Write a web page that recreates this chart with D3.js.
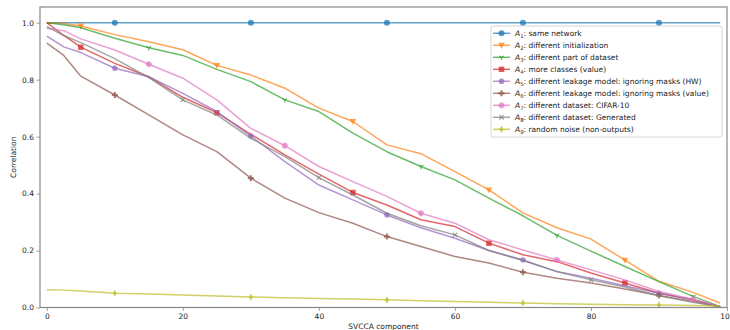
<!DOCTYPE html>
<html>
<head>
<meta charset="utf-8">
<script src="https://cdn.jsdelivr.net/npm/d3@7"></script>
<style>
  body { margin: 0; background: #fff; }
  svg { display: block; font-family: 'DejaVu Sans', sans-serif; }
</style>
</head>
<body>
<div id="chart"></div>
<script>
// SVCCA component positions where values were read
const components = [0, 2.5, 5, 10, 15, 20, 25, 30, 35, 40, 45, 50, 55, 60, 65, 70, 75, 80, 85, 90, 95, 99];

const a1 = [1, 1, 1, 1, 1, 1, 1, 1, 1, 1, 1, 1, 1, 1, 1, 1, 1, 1, 1, 1, 1, 1];
const a2 = [1.0, 0.997, 0.988, 0.958, 0.933, 0.905, 0.85, 0.816, 0.77, 0.70, 0.653, 0.571, 0.54, 0.477, 0.413, 0.332, 0.28, 0.24, 0.166, 0.092, 0.053, 0.016];
const a3 = [1.0, 0.993, 0.982, 0.945, 0.912, 0.885, 0.836, 0.793, 0.729, 0.688, 0.612, 0.547, 0.495, 0.448, 0.384, 0.322, 0.253, 0.198, 0.144, 0.091, 0.039, 0.003];
const a4 = [1.0, 0.955, 0.914, 0.857, 0.81, 0.738, 0.684, 0.608, 0.536, 0.468, 0.404, 0.36, 0.308, 0.284, 0.226, 0.185, 0.161, 0.121, 0.086, 0.05, 0.027, 0.003];
const a5 = [0.953, 0.915, 0.895, 0.84, 0.81, 0.752, 0.688, 0.602, 0.512, 0.43, 0.378, 0.325, 0.28, 0.243, 0.2, 0.167, 0.126, 0.103, 0.076, 0.05, 0.027, 0.003];
const a6 = [0.928, 0.885, 0.812, 0.746, 0.676, 0.606, 0.547, 0.454, 0.384, 0.333, 0.296, 0.249, 0.214, 0.179, 0.156, 0.124, 0.103, 0.086, 0.065, 0.042, 0.021, 0.003];
const a7 = [0.98, 0.972, 0.943, 0.904, 0.854, 0.805, 0.729, 0.629, 0.568, 0.495, 0.442, 0.39, 0.331, 0.296, 0.238, 0.202, 0.167, 0.132, 0.097, 0.056, 0.029, 0.003];
const a8 = [0.986, 0.955, 0.93, 0.874, 0.807, 0.729, 0.676, 0.594, 0.53, 0.456, 0.395, 0.331, 0.287, 0.255, 0.2, 0.165, 0.126, 0.097, 0.072, 0.041, 0.018, 0.003];
const a9 = [0.062, 0.061, 0.058, 0.05, 0.047, 0.044, 0.04, 0.037, 0.034, 0.032, 0.03, 0.027, 0.024, 0.021, 0.018, 0.016, 0.013, 0.011, 0.01, 0.009, 0.007, 0.005];

const labels = [
  "same network",
  "different initialization",
  "different part of dataset",
  "more classes (value)",
  "different leakage model: ignoring masks (HW)",
  "different leakage model: ignoring masks (value)",
  "different dataset: CIFAR-10",
  "different dataset: Generated",
  "random noise (non-outputs)"
];
const markerStart = [10, 5, 15, 5, 10, 10, 15, 20, 10];
const xTicks = [0, 20, 40, 60, 80, 100];
const yTicks = [0.0, 0.2, 0.4, 0.6, 0.8, 1.0];

const seriesValues = [a1, a2, a3, a4, a5, a6, a7, a8, a9];
const colors = ["#1f77b4", "#ff7f0e", "#2ca02c", "#d62728", "#9467bd", "#8c564b", "#e377c2", "#7f7f7f", "#bcbd22"];
const shapes = ["circle", "triDown", "tri", "square", "pentagon", "plus", "hexagon", "x", "diamond"];

const width = 730, height = 330;
const margin = { left: 40, right: 3, top: 7, bottom: 22.5 };

const x = d3.scaleLinear().domain([-1, 100]).range([margin.left, width - margin.right]);
const y = d3.scaleLinear().domain([0, 1.055]).range([height - margin.bottom, margin.top]);

const svg = d3.select("#chart").append("svg")
  .attr("width", width)
  .attr("height", height);

svg.append("defs").append("clipPath").attr("id", "plot-clip")
  .append("rect")
  .attr("x", margin.left).attr("y", margin.top)
  .attr("width", width - margin.left - margin.right)
  .attr("height", height - margin.top - margin.bottom);

// marker path generator, centred on 0,0
function markerPath(shape, s) {
  const p = d3.path();
  if (shape === "circle") {
    p.arc(0, 0, s * 0.55, 0, 2 * Math.PI);
  } else if (shape === "triDown") {
    p.moveTo(-s * 0.6, -s * 0.45); p.lineTo(s * 0.6, -s * 0.45); p.lineTo(0, s * 0.6); p.closePath();
  } else if (shape === "square") {
    p.rect(-s * 0.5, -s * 0.5, s, s);
  } else if (shape === "pentagon" || shape === "hexagon") {
    const n = shape === "pentagon" ? 5 : 6;
    for (let i = 0; i < n; i++) {
      const a = -Math.PI / 2 + i * 2 * Math.PI / n;
      const px = Math.cos(a) * s * 0.58, py = Math.sin(a) * s * 0.58;
      if (i === 0) p.moveTo(px, py); else p.lineTo(px, py);
    }
    p.closePath();
  } else if (shape === "plus") {
    const a = s * 0.55, b = s * 0.2;
    p.moveTo(-b, -a); p.lineTo(b, -a); p.lineTo(b, -b); p.lineTo(a, -b); p.lineTo(a, b); p.lineTo(b, b);
    p.lineTo(b, a); p.lineTo(-b, a); p.lineTo(-b, b); p.lineTo(-a, b); p.lineTo(-a, -b); p.lineTo(-b, -b); p.closePath();
  } else if (shape === "diamond") {
    p.moveTo(0, -s * 0.65); p.lineTo(s * 0.38, 0); p.lineTo(0, s * 0.65); p.lineTo(-s * 0.38, 0); p.closePath();
  } else if (shape === "x") {
    const a = s * 0.4;
    p.moveTo(-a, -a); p.lineTo(a, a); p.moveTo(-a, a); p.lineTo(a, -a);
  } else if (shape === "tri") {
    const a = s * 0.5;
    p.moveTo(0, 0); p.lineTo(0, a);
    p.moveTo(0, 0); p.lineTo(-a * 0.87, -a * 0.5);
    p.moveTo(0, 0); p.lineTo(a * 0.87, -a * 0.5);
  }
  return p.toString();
}
const strokeOnly = s => s === "x" || s === "tri";

function drawMarker(g, shape, color, cx, cy, size) {
  g.append("path")
    .attr("d", markerPath(shape, size))
    .attr("transform", `translate(${cx},${cy})`)
    .attr("fill", strokeOnly(shape) ? "none" : color)
    .attr("fill-opacity", 0.75)
    .attr("stroke", color)
    .attr("stroke-opacity", strokeOnly(shape) ? 0.75 : 0)
    .attr("stroke-width", 1.2);
}

const line = d3.line()
  .x(d => x(d[0]))
  .y(d => y(d[1]));

const plot = svg.append("g").attr("clip-path", "url(#plot-clip)");

seriesValues.forEach((vals, i) => {
  const pts = components.map((c, j) => [c, vals[j]]);
  const g = plot.append("g");
  g.append("path")
    .datum(pts)
    .attr("d", line)
    .attr("fill", "none")
    .attr("stroke", colors[i])
    .attr("stroke-opacity", 0.7)
    .attr("stroke-width", 1.5)
    .attr("stroke-linejoin", "round");
  pts.filter(p => p[0] >= markerStart[i] && (p[0] - markerStart[i]) % 20 === 0)
    .forEach(p => drawMarker(g, shapes[i], colors[i], x(p[0]), y(p[1]), 5.5));
});

// axes
const axisColor = "#888";
const xAxis = svg.append("g")
  .attr("transform", `translate(0,${height - margin.bottom})`)
  .call(d3.axisBottom(x).tickValues(xTicks).tickFormat(d3.format("d")).tickSize(3.5).tickPadding(2.5));
const yAxis = svg.append("g")
  .attr("transform", `translate(${margin.left},0)`)
  .call(d3.axisLeft(y).tickValues(yTicks).tickFormat(d3.format(".1f")).tickSize(3.5).tickPadding(2.5));
[xAxis, yAxis].forEach(a => {
  a.select(".domain").remove();
  a.selectAll(".tick line").attr("stroke", axisColor).attr("stroke-width", 0.8);
  a.selectAll(".tick text").attr("fill", "#222").style("font-size", "7.5px").style("font-family", "'DejaVu Sans', sans-serif");
});

// frame
svg.append("rect")
  .attr("x", margin.left).attr("y", margin.top)
  .attr("width", width - margin.left - margin.right)
  .attr("height", height - margin.top - margin.bottom)
  .attr("fill", "none")
  .attr("stroke", axisColor)
  .attr("stroke-width", 1.2);

svg.append("text")
  .attr("x", (margin.left + width - margin.right) / 2)
  .attr("y", height - 1)
  .attr("text-anchor", "middle")
  .style("font-size", "7.5px")
  .attr("fill", "#222")
  .text("SVCCA component");

svg.append("text")
  .attr("transform", `translate(16,${(margin.top + height - margin.bottom) / 2}) rotate(-90)`)
  .attr("text-anchor", "middle")
  .style("font-size", "7.5px")
  .attr("fill", "#222")
  .text("Correlation");

// legend
const legend = svg.append("g").attr("transform", "translate(491,26)");
legend.append("rect")
  .attr("width", 231).attr("height", 111)
  .attr("rx", 2)
  .attr("fill", "#fff").attr("fill-opacity", 0.85)
  .attr("stroke", "#ccc").attr("stroke-width", 0.8);

labels.forEach((lab, i) => {
  const row = legend.append("g").attr("transform", `translate(0,${7.3 + i * 12})`);
  row.append("line")
    .attr("x1", 2).attr("x2", 19)
    .attr("stroke", colors[i]).attr("stroke-opacity", 0.7).attr("stroke-width", 1.5);
  drawMarker(row, shapes[i], colors[i], 10.5, 0, 5.5);
  const t = row.append("text")
    .attr("x", 24).attr("y", 2.7)
    .style("font-size", "7.5px")
    .attr("fill", "#222");
  t.append("tspan").style("font-style", "italic").text("A");
  t.append("tspan").attr("dy", 1.6).style("font-size", "5.3px").text(i + 1);
  t.append("tspan").attr("dy", -1.6).text(": " + lab);
});
</script>
</body>
</html>
